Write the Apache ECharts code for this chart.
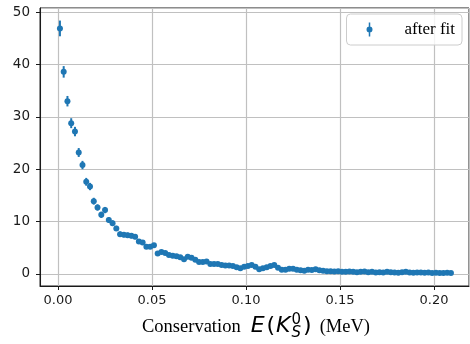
<!DOCTYPE html>
<html>
<head>
<meta charset="utf-8">
<script src="https://cdn.jsdelivr.net/npm/echarts@6/dist/echarts.min.js"></script>
<style>
  html, body { margin: 0; padding: 0; background: #fff; }
  #chart { width: 470px; height: 344px; }
</style>
</head>
<body>
<div id="chart"></div>
<script>
// bin centres (MeV)
const xValues = [
  0.001, 0.003, 0.005, 0.007, 0.009, 0.011, 0.013, 0.015, 0.017, 0.019,
  0.021, 0.023, 0.025, 0.027, 0.029, 0.031, 0.033, 0.035, 0.037, 0.039,
  0.041, 0.043, 0.045, 0.047, 0.049, 0.051, 0.053, 0.055, 0.057, 0.059,
  0.061, 0.063, 0.065, 0.067, 0.069, 0.071, 0.073, 0.075, 0.077, 0.079,
  0.081, 0.083, 0.085, 0.087, 0.089, 0.091, 0.093, 0.095, 0.097, 0.099,
  0.101, 0.103, 0.105, 0.107, 0.109, 0.111, 0.113, 0.115, 0.117, 0.119,
  0.121, 0.123, 0.125, 0.127, 0.129, 0.131, 0.133, 0.135, 0.137, 0.139,
  0.141, 0.143, 0.145, 0.147, 0.149, 0.151, 0.153, 0.155, 0.157, 0.159,
  0.161, 0.163, 0.165, 0.167, 0.169, 0.171, 0.173, 0.175, 0.177, 0.179,
  0.181, 0.183, 0.185, 0.187, 0.189, 0.191, 0.193, 0.195, 0.197, 0.199,
  0.201, 0.203, 0.205, 0.207, 0.209
];
// values after fit
const yValues = [
  46.9, 38.6, 33.0, 28.8, 27.2, 23.2, 20.8, 17.6, 16.7, 13.9,
  12.7, 11.3, 12.2, 10.3, 9.7, 8.7, 7.6, 7.5, 7.4, 7.3,
  7.1, 6.2, 6.0, 5.2, 5.2, 5.5, 3.9, 4.2, 4.0, 3.6,
  3.5, 3.4, 3.2, 2.8, 3.3, 3.1, 2.7, 2.3, 2.3, 2.4,
  1.9, 1.9, 1.9, 1.7, 1.6, 1.6, 1.5, 1.3, 1.1, 1.4,
  1.5, 1.7, 1.4, 0.9, 1.1, 1.3, 1.5, 1.7, 1.2, 0.8,
  0.8, 1.0, 1.0, 0.8, 0.7, 0.6, 0.8, 0.75, 0.9, 0.7,
  0.6, 0.5, 0.5, 0.45, 0.5, 0.4, 0.4, 0.45, 0.4, 0.35,
  0.4, 0.45, 0.35, 0.4, 0.3, 0.35, 0.3, 0.4, 0.35, 0.3,
  0.25, 0.35, 0.4, 0.3, 0.25, 0.3, 0.3, 0.25, 0.3, 0.2,
  0.25, 0.2, 0.2, 0.25, 0.2
];
// error bar half-lengths
const yErrors = [
  1.5, 1.1, 1.0, 0.95, 0.9, 0.85, 0.8, 0.75, 0.7, 0.65,
  0.6, 0.6, 0.6, 0.55, 0.55, 0.5, 0.5, 0.5, 0.5, 0.5,
  0.45, 0.45, 0.45, 0.4, 0.4, 0.4, 0.35, 0.35, 0.35, 0.35,
  0.3, 0.3, 0.3, 0.3, 0.3, 0.3, 0.3, 0.25, 0.25, 0.25,
  0.25, 0.25, 0.25, 0.25, 0.2, 0.2, 0.2, 0.2, 0.2, 0.2,
  0.2, 0.2, 0.2, 0.2, 0.2, 0.2, 0.2, 0.2, 0.2, 0.2,
  0.15, 0.15, 0.15, 0.15, 0.15, 0.15, 0.15, 0.15, 0.15, 0.15,
  0.15, 0.15, 0.15, 0.15, 0.15, 0.15, 0.15, 0.15, 0.15, 0.15,
  0.15, 0.15, 0.15, 0.15, 0.15, 0.15, 0.15, 0.15, 0.15, 0.15,
  0.15, 0.15, 0.15, 0.15, 0.15, 0.15, 0.15, 0.15, 0.15, 0.15,
  0.15, 0.15, 0.15, 0.15, 0.15
];

const BLUE = '#1f77b4';
const INK = '#1a1a1a';

const chart = echarts.init(document.getElementById('chart'));

// x-axis title with sub/superscript, laid out piece by piece
const ctx = document.createElement('canvas').getContext('2d');
const measure = (t, f) => { ctx.font = f; return ctx.measureText(t).width; };
const serif = '18.5px "Liberation Serif"';
const sans = '22px "DejaVu Sans"';
const sansIt = 'italic 22px "DejaVu Sans"';
const small = '15px "DejaVu Sans"';
const smallIt = 'italic 15px "DejaVu Sans"';
// gap = extra space after the piece
const pieces = [
  { t: 'Conservation', f: serif, dy: 0, gap: 10 },
  { t: 'E', f: sansIt, dy: 0, gap: 2 },
  { t: '(', f: sans, dy: 0, gap: 1 },
  { t: 'K', f: sansIt, dy: 0, gap: 1 },
  { t: 'S', f: smallIt, dy: 4, gap: 0, stack: true },
  { t: '0', f: small, dy: -9, gap: 2 },
  { t: ')', f: sans, dy: 0, gap: 8 },
  { t: '(MeV)', f: serif, dy: 0, gap: 0 }
];
let total = 0;
pieces.forEach(p => { p.w = measure(p.t, p.f); if (!p.stack) total += p.w + p.gap; });
let cx = 256 - total / 2;
const titleBase = 337;
const titleTexts = [];
pieces.forEach(p => {
  titleTexts.push({
    type: 'text', x: cx, y: titleBase + p.dy,
    style: { text: p.t, font: p.f, fill: '#000', textAlign: 'left', textVerticalAlign: 'bottom' }
  });
  if (!p.stack) cx += p.w + p.gap;
});

const barData = xValues.map((x, i) => [x, yValues[i] - yErrors[i], yValues[i] + yErrors[i]]);
const pointData = xValues.map((x, i) => [x, yValues[i]]);

const option = {
  animation: false,
  grid: {
    left: 40, right: 1, top: 8, bottom: 58,
    show: true, borderColor: INK, borderWidth: 1, backgroundColor: 'transparent'
  },
  legend: {
    right: 8, top: 14,
    selectedMode: false,
    data: [{
      name: 'after fit',
      icon: 'path://M2.25,0L3.75,0L3.75,14L2.25,14Z M0,7A3,3 0 1 1 6,7A3,3 0 1 1 0,7Z'
    }],
    itemWidth: 6, itemHeight: 14,
    itemStyle: { color: BLUE, borderWidth: 0, opacity: 1 },
    padding: [7, 7, 7, 20],
    backgroundColor: 'rgba(255,255,255,0.8)',
    borderColor: '#cccccc', borderWidth: 1, borderRadius: 4,
    textStyle: { fontFamily: 'Liberation Serif', fontSize: 17, color: '#000', padding: [0, 0, 0, 27] }
  },
  xAxis: {
    type: 'value',
    min: -0.0096, max: 0.2186,
    splitNumber: 5, minInterval: 0.05, maxInterval: 0.05,
    axisLine: { show: true, onZero: false, lineStyle: { color: INK, width: 1 } },
    axisTick: { show: true, length: 4, lineStyle: { color: INK, width: 1 } },
    axisLabel: {
      showMinLabel: false, showMaxLabel: false, margin: 8,
      fontFamily: 'DejaVu Sans', fontSize: 13, color: INK,
      formatter: v => v.toFixed(2)
    },
    splitLine: { show: true, lineStyle: { color: '#c0c0c0', width: 1.2 } }
  },
  yAxis: {
    type: 'value',
    min: -2.3, max: 50.8,
    splitNumber: 5, minInterval: 10, maxInterval: 10,
    axisLine: { show: true, onZero: false, lineStyle: { color: INK, width: 1 } },
    axisTick: { show: true, length: 4, lineStyle: { color: INK, width: 1 } },
    axisLabel: {
      showMinLabel: false, showMaxLabel: false, margin: 10,
      fontFamily: 'DejaVu Sans', fontSize: 13.5, color: INK,
      formatter: v => String(Math.round(v))
    },
    splitLine: { show: true, lineStyle: { color: '#c0c0c0', width: 1.2 } }
  },
  graphic: titleTexts,
  series: [
    {
      type: 'custom',
      name: 'errors',
      data: barData,
      encode: { x: 0, y: [1, 2] },
      silent: true,
      z: 3,
      renderItem: (params, api) => {
        const lo = api.coord([api.value(0), api.value(1)]);
        const hi = api.coord([api.value(0), api.value(2)]);
        return {
          type: 'line',
          shape: { x1: lo[0], y1: lo[1], x2: hi[0], y2: hi[1] },
          style: { stroke: BLUE, lineWidth: 2 }
        };
      }
    },
    {
      type: 'scatter',
      name: 'after fit',
      data: pointData,
      symbol: 'circle',
      symbolSize: 6,
      itemStyle: { color: BLUE, opacity: 1 },
      z: 4
    }
  ]
};

chart.setOption(option);
</script>
</body>
</html>
